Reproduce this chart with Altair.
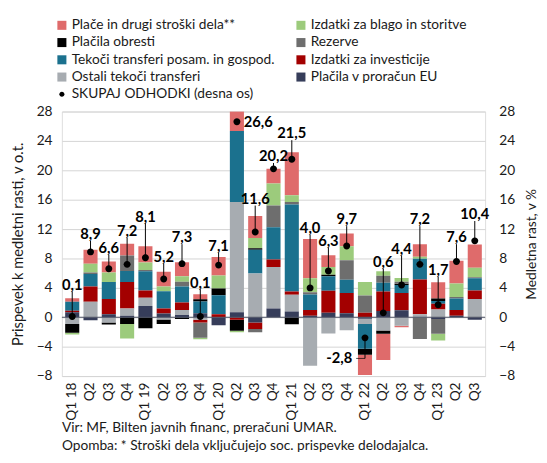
import altair as alt
import pandas as pd

quarters = ["Q1 18", "Q2 18", "Q3 18", "Q4 18", "Q1 19", "Q2 19", "Q3 19", "Q4 19",
            "Q1 20", "Q2 20", "Q3 20", "Q4 20", "Q1 21", "Q2 21", "Q3 21", "Q4 21",
            "Q1 22", "Q2 22", "Q3 22", "Q4 22", "Q1 23", "Q2 23", "Q3 23"]

series_names = ["Plače in drugi stroški dela**", "Izdatki za blago in storitve",
                "Plačila obresti", "Rezerve",
                "Tekoči transferi posam. in gospod.", "Izdatki za investicije",
                "Ostali tekoči transferi", "Plačila v proračun EU"]
series_colors = ["#DF6B6B", "#9CCB7C", "#000000", "#6E6E6E", "#1B718E", "#A30000",
                 "#A7ACB1", "#363D5A"]
total_name = "SKUPAJ ODHODKI (desna os)"
total_color = "#000000"

place = [0.5, 1.9, 1.5, 1.6, 2.2, 2.0, 1.9, 0.7, 2.5, 2.7, 3.0, 2.0, 5.85, 5.35, 1.6, 1.75,
         -2.75, -3.55, -0.2, 1.7, 2.2, 3.1, 3.15]
blago = [-0.25, 1.2, 1.3, -2.0, 1.0, 0.65, 0.75, -0.2, 1.8, -0.2, 1.4, 3.0, 0.9, 1.9, 1.05, 1.9,
         1.85, 0.6, 0.5, 0.3, -0.9, 1.85, 1.3]
obresti = [-1.2, 0, -0.3, -0.9, -1.5, -0.6, -0.25, 0.3, 0.9, -1.5, 0.2, 0, -0.95, 0, 0.2, 0,
           -0.8, -0.45, 0.15, 0, 0.35, 0, 0]
rezerve = [0, 0.2, 0, 2.1, 0.2, 0, 0.65, -2.1, 0, 0, -0.45, 2.95, 0.35, 0.3, 0, 2.65,
           2.35, 0.95, 0.3, -2.95, -2.0, 0.2, 0.15]
tekoci = [1.2, 1.7, 2.3, 1.5, 2.6, 2.35, 2.2, 1.6, 2.6, 9.65, 3.25, 4.4, 11.85, 2.1, 2.0, 1.8,
          -3.4, 1.2, 1.1, 2.8, 0.35, 1.55, 1.65]
investicije = [0.2, 2.1, 2.1, 3.6, 1.0, 0.7, 1.0, -0.35, 0.4, -0.35, -0.9, 1.0, 0.45, 0.8, 3.0, 2.75,
               0.6, 2.65, 2.35, 4.75, 0.8, 0.8, 1.15]
ostali = [-0.9, 2.1, -0.7, 1.0, 1.1, -0.3, 0.7, -0.35, 0, 15.0, 5.95, 5.65, 2.25, -6.6, -2.2, -1.75,
          -0.7, -1.8, -1.15, 0.4, 1.05, 0, 2.5]
eu = [0.7, -0.4, 0.4, 0.2, 1.55, 0.5, 0.3, 0.55, -1.1, 0.7, -0.7, 1.2, 0.8, 0.2, 0.6, 0.55,
      -0.2, 0.85, 0.95, 0, -0.25, 0.2, -0.35]

totals = [0.1, 8.9, 6.6, 7.2, 8.1, 5.2, 7.3, 0.1, 7.1, 26.6, 11.6, 20.2, 21.5, 4.0, 6.3, 9.7,
          -2.8, 0.6, 4.4, 7.2, 1.7, 7.6, 10.4]
# annotation: height (in % units) at which each total's label sits
label_y = [4.4, 11.3, 9.4, 11.7, 13.7, 8.2, 10.85, 4.7, 9.7, 26.6, 16.1, 21.9, 25.0, 12.1, 10.4, 13.3,
           -5.6, 7.5, 9.3, 13.3, 6.4, 10.85, 14.0]
label_side = ["c"] * 23
label_side[9] = "l"
label_side[16] = "r"

series_values = [place, blago, obresti, rezerve, tekoci, investicije, ostali, eu]
stack_rank = [7, 6, 4, 5, 3, 2, 1, 0]

rows = []
for name, vals, rk in zip(series_names, series_values, stack_rank):
    for q, v in zip(quarters, vals):
        if v != 0:
            rows.append({"q": q, "series": name, "value": v, "rank": rk})
df = pd.DataFrame(rows)

trows = []
for q, t, ly, side in zip(quarters, totals, label_y, label_side):
    if side == "c":
        lo, hi = t, ly - 0.9
    elif side == "r":
        lo, hi = t, ly
    else:
        lo, hi = t, t
    trows.append({"q": q, "series": total_name, "total": t,
                  "label": f"{t:.1f}".replace(".", ","),
                  "label_y": ly, "side": side, "lo": lo, "hi": hi})
dft = pd.DataFrame(trows)

FONT = "Lato"

# legend fills column by column: put entries so that rows read as in the reference
all_names = series_names + [total_name]
all_colors = series_colors + [total_color]
leg_idx = [0, 2, 4, 6, 8, 1, 3, 5, 7]
leg_names = [all_names[i] for i in leg_idx]
leg_colors = [all_colors[i] for i in leg_idx]
dot_path = "M-0.56,0A0.56,0.56 0 1,1 0.56,0A0.56,0.56 0 1,1 -0.56,0Z"
leg_shapes = [dot_path if n == total_name else "square" for n in leg_names]

x_enc = alt.X("q:N", sort=quarters,
              scale=alt.Scale(paddingInner=0.23, paddingOuter=0.18),
              axis=alt.Axis(title=None, labelAngle=270, labelAlign="right", labelBaseline="middle",
                            labelFontSize=14, labelFont=FONT, ticks=False, domain=False,
                            labelPadding=6, labelColor="#1a1a1a",
                            labelExpr="substring(datum.label,0,2)=='Q1' ? datum.label : substring(datum.label,0,2)"))

yscale = alt.Scale(domain=[-8, 28], nice=False, zero=False)
left_axis = alt.Axis(values=list(range(-8, 29, 4)), title="Prispevek k medletni rasti, v o.t.",
                     titleFont=FONT, titleFontSize=15, titleFontWeight="normal", titleColor="#1a1a1a",
                     labelFont=FONT, labelFontSize=14, labelColor="#1a1a1a",
                     grid=True, gridColor="#D4D4D4", ticks=False, domain=False,
                     labelPadding=10, titlePadding=11)
right_axis = alt.Axis(values=list(range(-8, 29, 4)), title="Medletna rast, v %", orient="right",
                      titleFont=FONT, titleFontSize=14, titleFontWeight="normal", titleColor="#1a1a1a",
                      titleAngle=270, titleBaseline="top",
                      labelFont=FONT, labelFontSize=14, labelColor="#1a1a1a",
                      grid=False, ticks=False, domain=False, labelPadding=14, titlePadding=10)


def make_legend():
    return alt.Legend(title=None, orient="none", legendX=-7, legendY=-95,
                      columns=2, columnPadding=19, rowPadding=3.6,
                      symbolType="square", symbolSize=85, symbolStrokeWidth=0,
                      labelFont=FONT, labelFontSize=14, labelColor="#1a1a1a",
                      labelLimit=400, labelOffset=3)


color_enc = alt.Color("series:N", scale=alt.Scale(domain=leg_names, range=leg_colors),
                      legend=make_legend())

bars = alt.Chart(df).mark_bar(clip=True).encode(
    x=x_enc,
    y=alt.Y("value:Q", stack="zero", scale=yscale, axis=left_axis),
    color=color_enc,
    order=alt.Order("rank:Q"),
)

zero = alt.Chart(pd.DataFrame({"z": [0]})).mark_rule(color="#4F5566", strokeWidth=1.2).encode(
    y=alt.Y("z:Q", scale=yscale, axis=left_axis))

left = alt.layer(bars, zero)

base = alt.Chart(dft)


def ry(f):
    return alt.Y(f, scale=yscale, axis=right_axis)


lines = base.mark_rule(color="black", strokeWidth=1).encode(
    x=x_enc, y=ry("lo:Q"), y2="hi:Q")
elbow = base.transform_filter("datum.side == 'r'").mark_tick(
    orient="horizontal", color="black", thickness=1, size=9, xOffset=-4.5).encode(
    x=x_enc, y=ry("label_y:Q"))
dots = base.mark_point(filled=True, opacity=1, strokeWidth=0, size=160).encode(
    x=x_enc, y=ry("total:Q"),
    color=color_enc,
    shape=alt.Shape("series:N", scale=alt.Scale(domain=leg_names, range=leg_shapes),
                    legend=make_legend()),
)
txt_c = base.transform_filter("datum.side == 'c'").mark_text(
    font=FONT, fontSize=15, fontWeight="bold", color="black", baseline="middle").encode(
    x=x_enc, y=ry("label_y:Q"), text="label:N")
txt_l = base.transform_filter("datum.side == 'l'").mark_text(
    font=FONT, fontSize=15, fontWeight="bold", color="black", baseline="middle",
    align="left", dx=7).encode(x=x_enc, y=ry("label_y:Q"), text="label:N")
txt_r = base.transform_filter("datum.side == 'r'").mark_text(
    font=FONT, fontSize=15, fontWeight="bold", color="black", baseline="middle",
    align="right", dx=-13).encode(x=x_enc, y=ry("label_y:Q"), text="label:N")

right = alt.layer(lines, elbow, dots, txt_c, txt_l, txt_r)

chart = alt.layer(left, right).resolve_scale(y="independent").properties(
    width=432, height=270,
    padding={"left": 2, "top": 6, "right": 0, "bottom": 2},
    title=alt.TitleParams(
        text=["Vir: MF, Bilten javnih financ, preračuni UMAR.",
              "Opomba: * Stroški dela vključujejo soc. prispevke delodajalca."],
        orient="bottom", anchor="start", frame="group", font=FONT, fontSize=14,
        fontWeight="normal", color="#1a1a1a", offset=1, lineHeight=18.5, dx=0),
).configure_view(stroke="#BDBDBD", strokeWidth=1.2).configure(background="white")

chart.save("out.html", embed_options={"renderer": "svg", "actions": False})
